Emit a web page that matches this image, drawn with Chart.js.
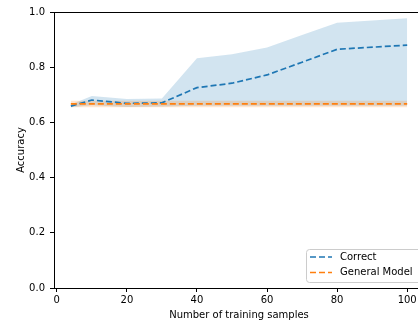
<!DOCTYPE html>
<html>
<head>
<meta charset="utf-8">
<script src="https://cdn.jsdelivr.net/npm/chart.js@4.4.1/dist/chart.umd.min.js"></script>
<style>
  html, body { margin: 0; padding: 0; background: #fff; overflow: hidden; }
  #wrap { width: 432px; height: 324px; }
</style>
</head>
<body>
<div id="wrap"><canvas id="c" width="432" height="324"></canvas></div>
<script>
// Accuracy versus number of training samples
const samples = [4, 10, 20, 30, 40, 50, 60, 70, 80, 100];

const correctMean  = [0.659, 0.681, 0.669, 0.671, 0.726, 0.742, 0.772, 0.818, 0.865, 0.880];
const correctUpper = [0.665, 0.696, 0.685, 0.687, 0.832, 0.847, 0.871, 0.917, 0.961, 0.977];
const correctLower = [0.655, 0.662, 0.656, 0.658, 0.660, 0.660, 0.660, 0.660, 0.660, 0.660];

const generalMean  = [0.667, 0.667, 0.667, 0.667, 0.667, 0.667, 0.667, 0.667, 0.667, 0.667];
const generalUpper = [0.678, 0.678, 0.678, 0.678, 0.678, 0.678, 0.678, 0.678, 0.678, 0.678];
const generalLower = [0.655, 0.655, 0.655, 0.655, 0.655, 0.655, 0.655, 0.655, 0.655, 0.655];

const xTicks = [0, 20, 40, 60, 80, 100];
const yTicks = [0.0, 0.2, 0.4, 0.6, 0.8, 1.0];

const BLUE = '#1f77b4';
const ORANGE = '#ff7f0e';
const FONT = 'DejaVu Sans';
const FS = 10;

const pts = (ys) => samples.map((x, i) => ({ x: x, y: ys[i] }));

const lineDs = (label, ys, color) => ({
  label, data: pts(ys), borderColor: color, borderWidth: 1.7,
  borderDash: [6, 3], pointRadius: 0, fill: false, tension: 0
});
const bandDs = (ys, color, fill) => ({
  label: '', data: pts(ys), borderWidth: 0, borderColor: 'transparent',
  backgroundColor: color, pointRadius: 0, fill: fill, tension: 0
});

// Legend box in the lower right corner of the plot area
const legendBox = {
  id: 'legendBox',
  afterDraw(chart) {
    const ctx = chart.ctx;
    const x0 = 306, y0 = 249, w = 140, h = 33;
    ctx.save();
    ctx.beginPath();
    ctx.roundRect(x0 + 0.5, y0 + 0.5, w, h, 3);
    ctx.fillStyle = 'rgba(255,255,255,0.85)';
    ctx.fill();
    ctx.strokeStyle = '#cccccc';
    ctx.lineWidth = 1;
    ctx.stroke();
    const items = [['Correct', BLUE], ['General Model', ORANGE]];
    ctx.font = FS + 'px "' + FONT + '"';
    ctx.textBaseline = 'middle';
    items.forEach((it, i) => {
      const yy = y0 + 8 + i * 15.5;
      ctx.beginPath();
      ctx.setLineDash([6, 3]);
      ctx.strokeStyle = it[1];
      ctx.lineWidth = 1.7;
      ctx.moveTo(310, yy);
      ctx.lineTo(332, yy);
      ctx.stroke();
      ctx.setLineDash([]);
      ctx.fillStyle = '#000';
      ctx.fillText(it[0], 340, yy);
    });
    ctx.restore();
  }
};

// Top spine of the axes frame
const frame = {
  id: 'frame',
  afterDatasetsDraw(chart) {
    const ctx = chart.ctx, a = chart.chartArea;
    ctx.save();
    ctx.strokeStyle = '#000';
    ctx.lineWidth = 1;
    ctx.beginPath();
    ctx.moveTo(a.left, Math.round(a.top) + 0.5);
    ctx.lineTo(a.right + 1, Math.round(a.top) + 0.5);
    ctx.stroke();
    ctx.restore();
  }
};

new Chart(document.getElementById('c'), {
  type: 'line',
  data: {
    datasets: [
      lineDs('General Model', generalMean, ORANGE),
      lineDs('Correct', correctMean, BLUE),
      bandDs(generalUpper, 'rgba(255,127,14,0.2)', '+1'),
      bandDs(generalLower, 'transparent', false),
      bandDs(correctUpper, 'rgba(31,119,180,0.2)', '+1'),
      bandDs(correctLower, 'transparent', false)
    ]
  },
  options: {
    responsive: false,
    animation: false,
    events: [],
    layout: { padding: { top: 12, right: 8, left: 0, bottom: 0 } },
    plugins: { legend: { display: false }, tooltip: { enabled: false } },
    scales: {
      x: {
        type: 'linear', min: -0.8, max: 104.8,
        afterBuildTicks: (s) => { s.ticks = xTicks.map(v => ({ value: v })); },
        afterFit: (s) => { s.height = 36; },
        grid: { display: true, drawOnChartArea: false, drawTicks: true, tickLength: 4, color: '#000' },
        border: { display: true, color: '#000', width: 1 },
        ticks: { color: '#000', font: { family: FONT, size: FS }, padding: 2, maxRotation: 0,
                 callback: (v) => String(v) },
        title: { display: true, text: 'Number of training samples', color: '#000',
                 font: { family: FONT, size: FS }, padding: { top: 0, bottom: 3 } }
      },
      y: {
        type: 'linear', min: 0, max: 1,
        afterBuildTicks: (s) => { s.ticks = yTicks.map(v => ({ value: v })); },
        afterFit: (s) => { s.width = 54; },
        grid: { display: true, drawOnChartArea: false, drawTicks: true, tickLength: 4, color: '#000' },
        border: { display: true, color: '#000', width: 1 },
        ticks: { color: '#000', font: { family: FONT, size: FS }, padding: 5,
                 callback: (v) => v.toFixed(1) },
        title: { display: true, text: 'Accuracy', color: '#000',
                 font: { family: FONT, size: FS }, padding: { top: 15, bottom: 0 } }
      }
    }
  },
  plugins: [legendBox, frame]
});
</script>
</body>
</html>
